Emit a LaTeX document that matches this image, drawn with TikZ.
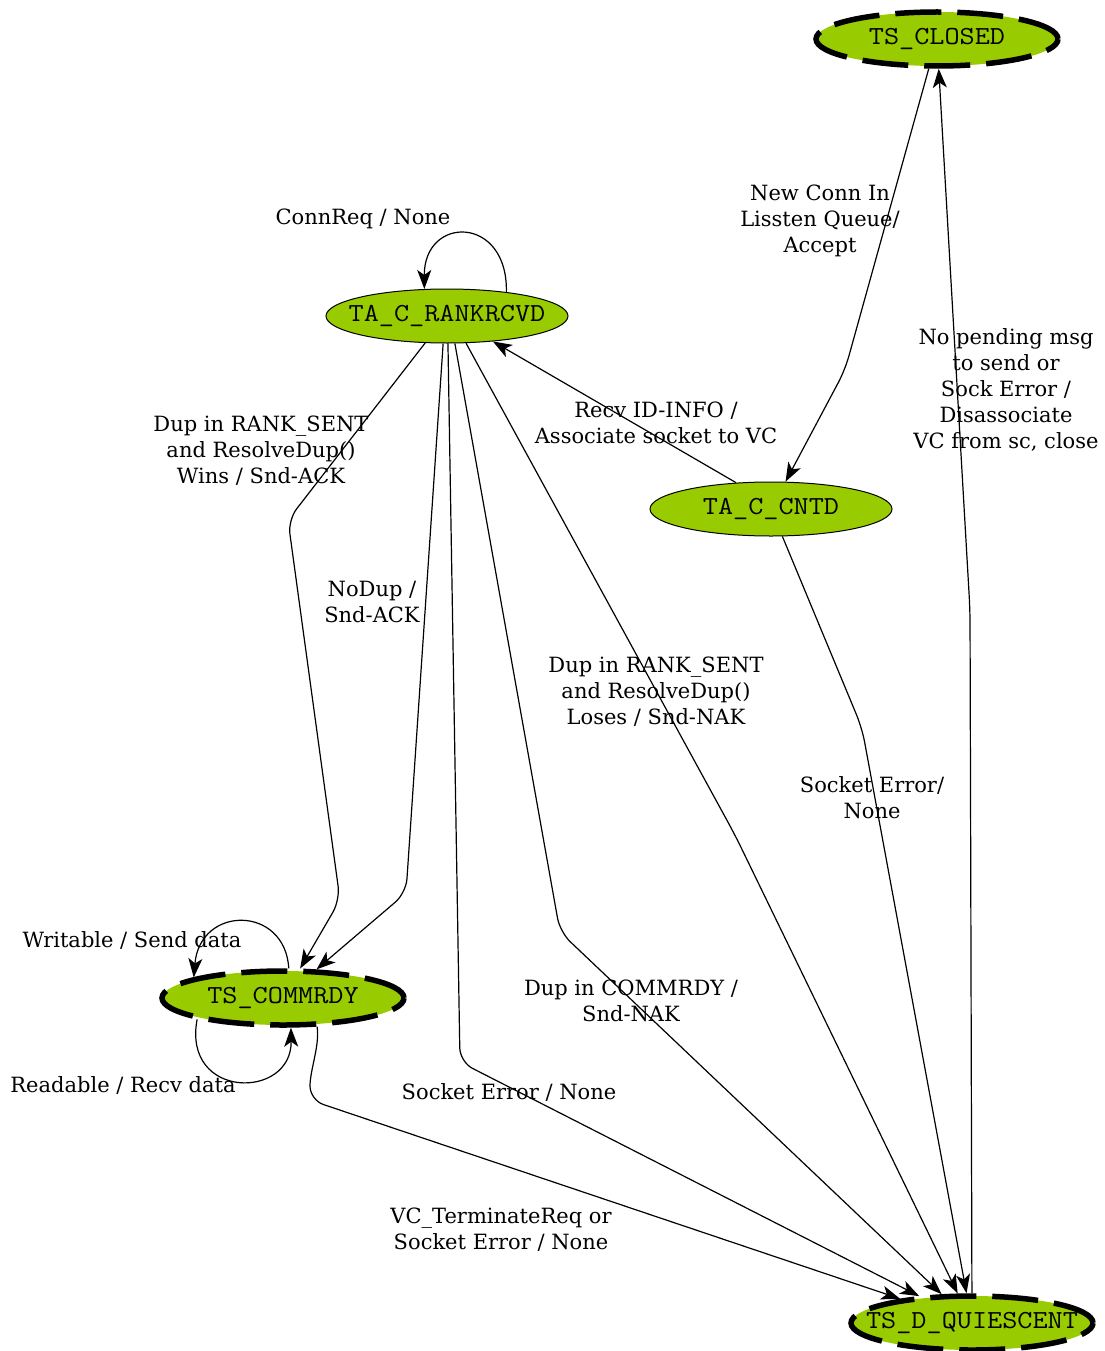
\documentclass[tikz,border=0pt]{standalone}
\usepackage{fontspec}
\setmainfont{DejaVu Serif}
\usetikzlibrary{arrows.meta,shapes.geometric}
\definecolor{stategreen}{RGB}{153,204,0}

% state names: typewriter face, set in a zero-width box so the ellipse keeps its size
\newcommand{\statename}[1]{\makebox[0pt]{\scalebox{1.13}[1]{\ttfamily\fontsize{26}{30}\selectfont #1}}}

\begin{document}
\begin{tikzpicture}[x=1pt,y=-1pt,
  state/.style={ellipse,draw=black,line width=1pt,fill=stategreen,
    minimum width=242pt,minimum height=54pt,inner sep=0pt},
  stable/.style={state,line width=5.5pt,dash pattern=on 46pt off 16pt},
  trans/.style={line width=1.2pt,-{Stealth[length=19pt,width=14pt,inset=5pt]},rounded corners=14pt},
  lbl/.style={align=center,inner sep=0pt,font=\fontsize{21}{26}\selectfont}]

\useasboundingbox (0,0) rectangle (1104,1351);

% states
\node[stable] (closed)    at (937,39)   {\statename{TS\_CLOSED}};
\node[state]  (rankrcvd)  at (447,316)  {\statename{TA\_C\_RANKRCVD}};
\node[state]  (cntd)      at (771,509)  {\statename{TA\_C\_CNTD}};
\node[stable] (commrdy)   at (283,998)  {\statename{TS\_COMMRDY}};
\node[stable] (quiescent) at (972,1323) {\statename{TS\_D\_QUIESCENT}};

% transitions
\draw[trans] (closed) -- (845,370) -- (cntd);
\draw[trans] (quiescent) -- (970,610) -- (closed);
\draw[trans] (rankrcvd.22) .. controls (508,215) and (424,215) .. (rankrcvd.130);
\draw[trans] (cntd.143) -- (rankrcvd.-29);
\draw[trans] (rankrcvd.-129) -- (288,520) -- (340,900) -- (commrdy);
\draw[trans] (rankrcvd.-98) -- (406,893) -- (commrdy);
\draw[trans] (rankrcvd.-88) -- (460,1062) -- (quiescent);
\draw[trans] (rankrcvd.-74) -- (560,932) -- (quiescent);
\draw[trans] (rankrcvd.-55) -- (735,835) -- (quiescent);
\draw[trans] (cntd) -- (862,728) -- (quiescent);
\draw[trans] (commrdy.-40) .. controls (320,1045) and (310,1070) .. (310,1100)
  -- (quiescent);
\draw[trans] (commrdy.79) .. controls (285,905) and (200,905) .. (commrdy.167);
\draw[trans] (commrdy.-166) .. controls (182,1100) and (292,1100) .. (commrdy.-75);

% transition labels
\node[lbl] (l-connreq)  at (363,219)  {ConnReq / None};
\node[lbl] (l-newconn)  at (820,221)  {New Conn In\\Lissten Queue/\\Accept};
\node[lbl] (l-nopend)   at (1006,390) {No pending msg\\to send or\\Sock Error /\\Disassociate\\VC from sc, close};
\node[lbl] (l-recvid)   at (656,423)  {Recv ID-INFO /\\Associate socket to VC};
\node[lbl] (l-wins)     at (261,451)  {Dup in RANK\_SENT\\and ResolveDup()\\Wins / Snd-ACK};
\node[lbl] (l-nodup)    at (372,602)  {NoDup /\\Snd-ACK};
\node[lbl] (l-loses)    at (656,692)  {Dup in RANK\_SENT\\and ResolveDup()\\Loses / Snd-NAK};
\node[lbl] (l-sockerr1) at (872,798)  {Socket Error/\\None};
\node[lbl] (l-dupcomm)  at (631,1001) {Dup in COMMRDY /\\Snd-NAK};
\node[lbl] (l-sockerr2) at (509,1092) {Socket Error / None};
\node[lbl] (l-vcterm)   at (501,1230) {VC\_TerminateReq or\\Socket Error / None};
\node[lbl] (l-write)    at (132,940)  {Writable / Send data};
\node[lbl] (l-read)     at (123,1085) {Readable / Recv data};

\end{tikzpicture}
\end{document}
